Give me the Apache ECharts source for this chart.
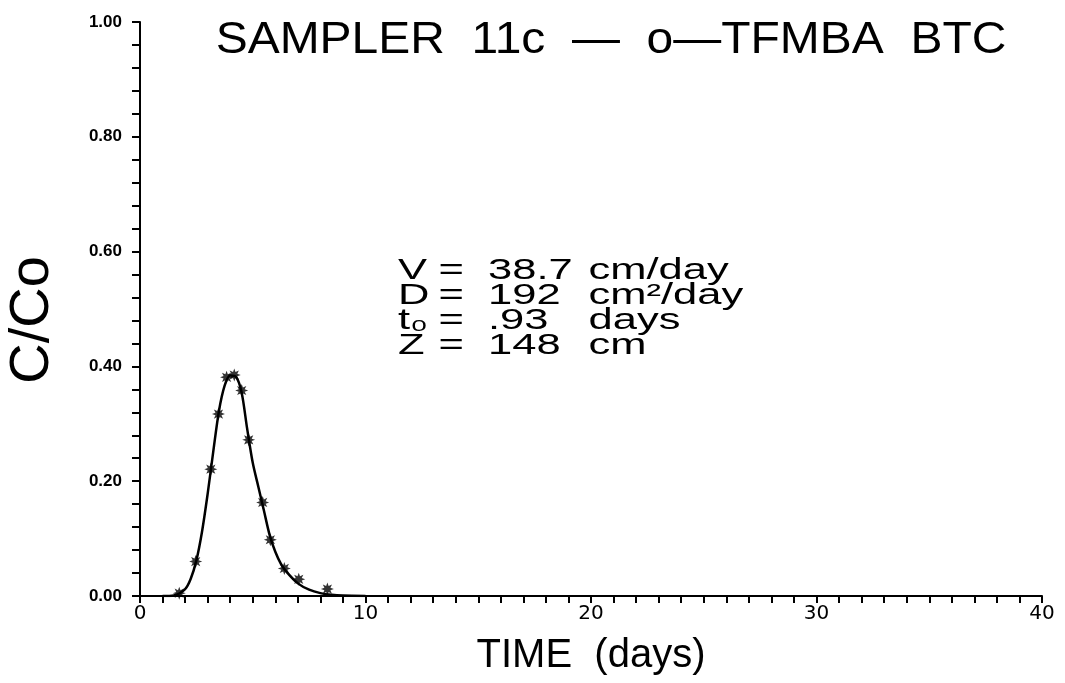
<!DOCTYPE html>
<html>
<head>
<meta charset="utf-8">
<title>SAMPLER 11c - o-TFMBA BTC</title>
<script src="https://cdn.jsdelivr.net/npm/echarts@6/dist/echarts.min.js"></script>
<style>
  html, body { margin: 0; padding: 0; background: #fff; }
  #chart { width: 1065px; height: 683px; }
</style>
</head>
<body>
<div id="chart"></div>
<script>
// Observed breakthrough concentrations (time in days, relative concentration C/Co)
const obsTime = [1.74, 2.47, 3.14, 3.48, 3.84, 4.18, 4.51, 4.82, 5.44, 5.78, 6.40, 7.04, 8.31];
const obsConc = [0.005, 0.060, 0.221, 0.317, 0.381, 0.385, 0.358, 0.272, 0.163, 0.098, 0.048, 0.029, 0.012];

// Fitted advection-dispersion curve
const fitTime = [1.0, 1.5, 2.0, 2.25, 2.5, 2.75, 3.0, 3.25, 3.5, 3.75, 4.0, 4.25, 4.5, 4.75, 5.0, 5.25, 5.5, 5.75, 6.0, 6.25, 6.5, 7.0, 7.5, 8.0, 8.5, 9.0, 10.0];
const fitConc = [0.000, 0.001, 0.012, 0.030, 0.062, 0.112, 0.178, 0.252, 0.322, 0.366, 0.384, 0.382, 0.356, 0.292, 0.232, 0.190, 0.148, 0.106, 0.077, 0.056, 0.042, 0.022, 0.011, 0.005, 0.002, 0.0007, 0.0];

// Axis ticks
const xTicks = [0, 10, 20, 30, 40];
const yTicks = [0.0, 0.2, 0.4, 0.6, 0.8, 1.0];

// Fit parameters shown beside the curve: symbol, value, unit
const paramLines = [
  ['V', '38.7', 'cm/day'],
  ['D', '192', 'cm²/day'],
  ['t₀', '.93', 'days'],
  ['Z', '148', 'cm']
];

const titleText = 'SAMPLER  11c  —  o—TFMBA  BTC';
const xName = 'TIME  (days)';
const yName = 'C/Co';

const plotFont = '"Liberation Sans", Arial, sans-serif';
const starPath = 'path://M10 0L11.91 5.38L17.07 2.93L14.62 8.09L20 10L14.62 11.91L17.07 17.07L11.91 14.62L10 20L8.09 14.62L2.93 17.07L5.38 11.91L0 10L5.38 8.09L2.93 2.93L8.09 5.38Z';

const chart = echarts.init(document.getElementById('chart'), null, { renderer: 'canvas' });

const axisLine = { show: true, onZero: false, lineStyle: { color: '#000', width: 2 } };

// Parameter block: one wide-set text line per parameter
const paramGraphics = paramLines.map((r, i) => ({
  type: 'text',
  x: 398,
  y: 271 + i * 25,
  scaleX: 1.5,
  style: {
    text: `{a|${r[0]}}{b|=}{c|${r[1]}}{d|${r[2]}}`,
    verticalAlign: 'middle',
    rich: {
      a: { width: 27, fontFamily: plotFont, fontSize: 29, fill: '#000' },
      b: { width: 33, fontFamily: plotFont, fontSize: 29, fill: '#000' },
      c: { width: 67, fontFamily: plotFont, fontSize: 29, fill: '#000' },
      d: { fontFamily: plotFont, fontSize: 29, fill: '#000' }
    }
  }
}));

chart.setOption({
  backgroundColor: '#fff',
  animation: false,
  grid: { left: 140, right: 23, top: 22, bottom: 87, containLabel: false },
  xAxis: {
    type: 'value',
    min: xTicks[0],
    max: xTicks[xTicks.length - 1],
    interval: xTicks[1] - xTicks[0],
    axisLine: axisLine,
    axisTick: { show: true, inside: false, length: 7, lineStyle: { color: '#000', width: 2 } },
    minorTick: { show: true, splitNumber: 10, length: 7, lineStyle: { color: '#000', width: 2 } },
    splitLine: { show: false },
    axisLabel: { color: '#000', fontFamily: '"DejaVu Sans", sans-serif', fontSize: 20, margin: 8 },
    name: xName,
    nameLocation: 'middle',
    nameGap: 40,
    nameTextStyle: { color: '#000', fontFamily: plotFont, fontSize: 40 }
  },
  yAxis: {
    type: 'value',
    min: yTicks[0],
    max: yTicks[yTicks.length - 1],
    interval: yTicks[1] - yTicks[0],
    axisLine: axisLine,
    axisTick: { show: true, inside: false, length: 8, lineStyle: { color: '#000', width: 2 } },
    minorTick: { show: true, splitNumber: 5, length: 8, lineStyle: { color: '#000', width: 2 } },
    splitLine: { show: false },
    axisLabel: {
      color: '#000', fontFamily: plotFont, fontWeight: 'bold', fontSize: 17, margin: 18,
      formatter: v => v.toFixed(2)
    }
  },
  graphic: [
    {
      type: 'text', x: 611, y: 41, scaleX: 1.09,
      style: { text: titleText, fill: '#000', font: '44px ' + plotFont, textAlign: 'center', textVerticalAlign: 'middle' }
    },
    {
      type: 'text', x: 33, y: 320, rotation: Math.PI / 2,
      style: { text: yName, fill: '#000', font: '56px ' + plotFont, textAlign: 'center', textVerticalAlign: 'middle' }
    }
  ].concat(paramGraphics),
  series: [
    {
      name: 'Fitted curve',
      type: 'line',
      data: fitTime.map((t, i) => [t, fitConc[i]]),
      smooth: 0.3,
      showSymbol: false,
      lineStyle: { color: '#000', width: 2.5 },
      z: 2
    },
    {
      name: 'Observed',
      type: 'scatter',
      data: obsTime.map((t, i) => [t, obsConc[i]]),
      symbol: starPath,
      symbolSize: 13,
      itemStyle: { color: '#000' },
      z: 3
    }
  ]
});
</script>
</body>
</html>
